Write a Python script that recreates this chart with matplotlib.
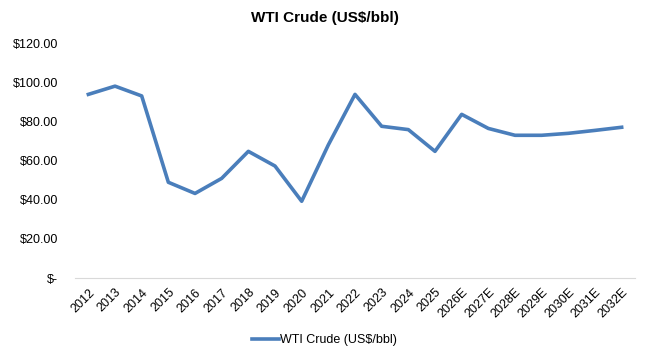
import matplotlib
matplotlib.use("Agg")
import matplotlib.pyplot as plt
from matplotlib.ticker import FuncFormatter

plt.rcParams['font.family'] = ['Liberation Sans', 'DejaVu Sans']

years = ['2012', '2013', '2014', '2015', '2016', '2017', '2018', '2019', '2020',
         '2021', '2022', '2023', '2024', '2025', '2026E', '2027E', '2028E',
         '2029E', '2030E', '2031E', '2032E']
wti = [93.8, 98.0, 93.0, 48.9, 43.2, 50.9, 64.7, 57.2, 39.2,
       68.0, 93.8, 77.5, 75.8, 64.7, 83.6, 76.4, 72.9,
       72.9, 73.9, 75.4, 77.0]
yticks = [0, 20, 40, 60, 80, 100, 120]

fig = plt.figure(figsize=(6.49, 3.59), dpi=100)
ax = fig.add_axes([0.1156, 0.2256, 0.8628, 0.6544])

x = list(range(len(years)))
ax.plot(x, wti, color='#4a7ebb', lw=2.6, label='WTI Crude (US$/bbl)')

ax.set_xlim(-0.5, len(years) - 0.5)
ax.set_ylim(0, 120)
ax.set_yticks(yticks)
ax.yaxis.set_major_formatter(FuncFormatter(lambda v, p: '$-' if v == 0 else f'${v:.2f}'))
ax.set_xticks(x)
ax.set_xticklabels(years, rotation=45, ha='right', rotation_mode='anchor')
ax.tick_params(axis='both', length=0, labelsize=9)
ax.tick_params(axis='y', pad=12)
ax.tick_params(axis='x', pad=6)

for s in ['top', 'right', 'left']:
    ax.spines[s].set_visible(False)
ax.spines['bottom'].set_color('#d9d9d9')

fig.suptitle('WTI Crude (US$/bbl)', fontweight='bold', fontsize=11, y=0.968)
fig.legend(loc='center', bbox_to_anchor=(0.5, 0.053), frameon=False, fontsize=9,
           handlelength=2.2, handletextpad=0.1)

fig.savefig('out.png', dpi=100)
